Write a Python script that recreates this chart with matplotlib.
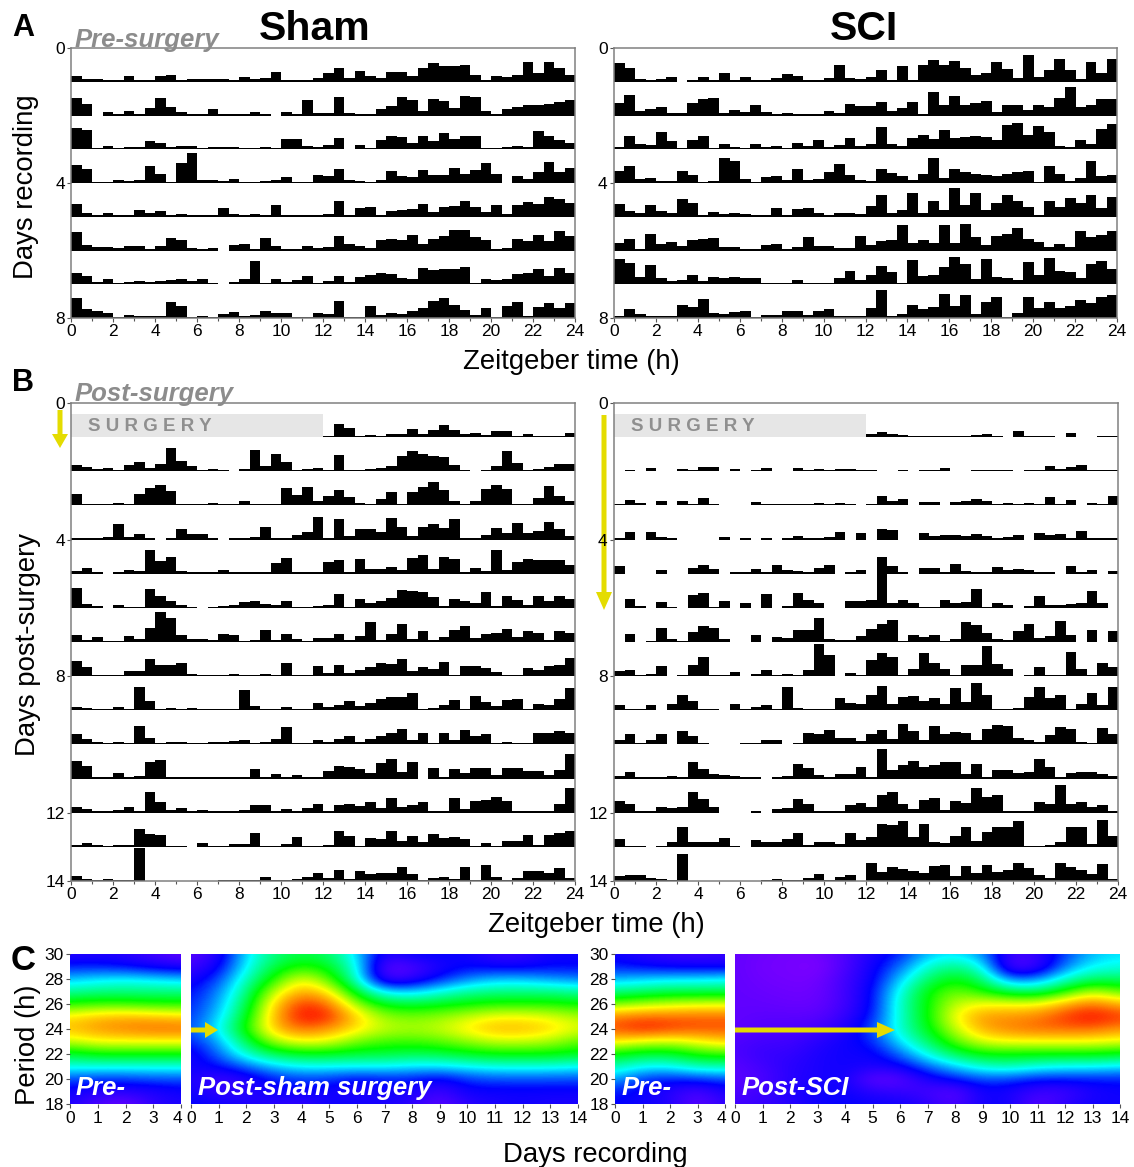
import numpy as np
import matplotlib
matplotlib.use("Agg")
import matplotlib.pyplot as plt
from matplotlib.colors import LinearSegmentedColormap
from matplotlib.patches import FancyArrow, Rectangle
from matplotlib.transforms import ScaledTranslation

plt.rcParams['font.family'] = ['Liberation Sans', 'DejaVu Sans']
N = None
ROW_SCALE = 101.0

SHAM_PRE = [
 [18,8,7,2,4,16,4,2,18,20,2,7,9,9,7,5,15,8,10,30,5,4,2,12,25,40,12,33,18,12,30,28,18,40,57,48,47,50,20,2,17,13,20,60,25,58,40,20],
 [52,35,N,11,3,12,5,22,53,24,10,2,4,20,5,2,2,10,3,N,9,3,47,6,6,56,6,5,3,18,27,55,47,12,50,44,22,58,55,12,4,20,26,30,32,33,41,45],
 [65,58,3,9,3,7,7,25,20,8,10,11,5,8,7,6,3,3,7,4,30,30,10,8,13,35,N,12,3,28,41,38,18,40,26,48,30,39,39,2,4,7,9,8,55,40,27,20],
 [55,43,2,3,8,7,9,52,28,3,60,90,8,9,6,13,2,2,5,10,19,2,3,24,20,42,10,5,2,8,36,22,17,40,24,25,44,27,40,60,27,N,20,12,32,63,32,45],
 [38,11,4,12,5,6,20,11,17,3,9,4,3,4,26,7,5,9,4,35,2,3,6,2,7,48,3,27,29,2,18,19,24,37,14,29,33,46,29,14,34,8,36,44,37,59,52,42],
 [54,17,10,10,6,12,12,2,13,38,32,6,2,7,N,17,18,4,36,12,5,5,12,7,9,43,18,13,7,32,33,31,46,19,33,42,62,62,39,31,2,7,35,27,46,27,58,42],
 [35,25,6,16,3,6,9,6,11,13,17,10,17,3,N,6,15,69,3,16,8,14,26,5,10,24,7,21,27,35,31,20,15,48,43,47,45,52,2,17,12,17,30,35,46,25,48,35],
 [59,28,21,14,3,8,6,6,5,49,36,4,5,2,13,17,6,9,21,14,15,4,2,15,13,52,3,2,37,9,14,11,21,31,52,60,38,24,10,29,4,35,49,6,32,44,31,45],
]
SCI_PRE = [
 [56,40,9,2,8,14,N,2,13,5,25,5,14,2,2,12,23,18,4,5,11,49,12,8,14,35,3,47,3,49,64,49,61,40,20,25,59,38,12,81,14,35,67,36,7,58,26,67],
 [36,61,12,20,25,8,7,36,48,53,6,16,9,30,10,2,6,5,2,4,12,8,34,28,28,40,14,21,40,2,69,31,58,30,38,42,10,31,32,15,31,25,52,85,24,31,50,48],
 [7,40,15,12,52,25,4,28,40,5,15,7,4,15,7,9,2,18,10,29,6,14,34,9,17,66,15,10,34,43,30,57,35,38,39,36,27,73,78,42,71,52,11,7,27,16,62,77],
 [36,51,11,15,7,5,36,24,2,5,75,67,13,2,18,20,9,41,9,11,32,57,24,8,7,41,30,22,8,28,75,15,43,33,27,24,20,26,33,35,4,50,27,6,15,65,21,25],
 [38,16,11,36,18,12,52,41,2,14,7,12,9,2,5,27,3,24,26,10,2,11,12,7,33,65,11,19,70,10,47,20,86,35,72,19,40,66,47,29,3,46,29,57,42,65,26,60],
 [21,33,4,48,20,26,13,31,33,37,9,11,3,2,16,20,2,10,40,13,13,6,6,42,16,27,30,77,23,32,22,77,23,79,41,17,43,49,66,34,26,9,19,10,59,40,46,57],
 [77,63,23,57,20,10,14,29,10,23,19,21,18,19,5,5,5,14,2,2,5,20,40,14,27,56,36,2,72,26,29,51,81,61,15,77,21,20,12,68,28,78,40,36,19,60,70,47],
 [5,28,12,6,7,7,40,33,58,15,12,18,21,3,10,9,21,20,8,20,26,7,7,7,29,83,7,13,40,27,33,72,36,70,13,48,64,4,16,63,29,49,29,37,53,45,62,68],
]
SHAM_POST = [
 [N,N,N,N,N,N,N,N,N,N,N,N,N,N,N,N,N,N,N,N,N,N,N,N,2,38,28,3,5,2,10,10,25,10,20,36,22,8,12,6,18,18,2,9,3,3,3,11],
 [20,13,7,10,2,20,26,10,21,70,30,15,5,6,2,N,8,62,15,51,28,3,8,10,5,49,4,2,6,10,15,45,60,52,45,42,20,5,N,2,17,60,24,3,8,13,22,22],
 [35,5,3,2,7,4,33,53,61,44,5,3,2,7,5,5,13,3,3,5,52,32,54,14,27,46,26,7,4,18,40,3,40,54,69,46,13,3,13,48,59,50,2,3,21,58,28,12],
 [2,2,2,9,46,9,17,3,N,2,32,17,17,3,N,2,5,9,36,5,2,13,22,66,3,60,10,32,32,21,64,36,10,37,46,35,62,3,3,13,34,19,49,19,25,53,31,12],
 [8,17,6,N,3,11,7,69,38,50,8,2,3,5,11,5,5,3,3,33,46,2,3,5,34,42,3,44,15,14,21,12,47,54,14,49,44,3,17,8,70,12,34,44,40,40,40,27],
 [59,10,5,N,7,4,2,57,36,21,7,3,N,2,5,8,18,21,10,7,19,2,3,5,9,42,3,27,13,19,30,52,50,47,32,5,27,20,15,48,6,34,24,8,36,20,36,27],
 [20,6,15,3,3,17,10,40,88,70,20,8,10,6,23,20,3,5,36,5,23,8,2,13,12,24,5,18,59,5,25,53,8,32,5,15,36,46,12,24,28,37,15,34,28,6,33,27],
 [45,27,2,4,2,15,16,50,33,33,38,6,2,4,2,6,3,3,5,2,39,3,3,31,9,33,9,18,27,39,35,51,14,26,22,42,3,31,29,23,11,2,2,25,18,31,33,53],
 [11,7,3,2,10,2,68,26,5,7,3,8,2,2,4,4,60,12,4,2,9,5,3,22,11,16,28,13,22,33,38,40,52,4,6,17,30,4,41,24,12,30,34,2,18,15,34,67],
 [30,15,8,2,6,5,55,18,3,7,7,2,3,6,6,10,12,3,8,15,53,2,5,12,6,17,24,8,15,24,33,45,14,33,2,33,14,43,24,30,3,6,2,3,34,34,40,34],
 [53,36,4,2,17,5,7,50,55,4,2,2,3,2,3,4,3,28,5,13,3,11,4,6,22,38,33,28,16,47,57,19,48,N,30,4,28,17,30,32,10,31,32,23,23,10,25,74],
 [18,12,2,3,7,16,3,60,33,8,13,3,7,2,2,2,9,22,22,2,10,5,14,26,2,22,26,19,33,15,43,17,23,33,6,3,43,12,36,37,46,36,3,2,5,5,25,72],
 [6,12,6,3,5,6,53,38,34,3,2,N,10,2,4,7,9,40,2,4,8,29,2,2,5,47,33,2,26,24,46,18,33,15,38,25,30,24,4,11,4,18,16,35,6,36,42,47],
 [15,5,3,5,3,2,97,N,N,N,N,N,N,N,2,3,2,4,13,4,2,5,11,23,8,34,7,30,22,24,24,40,22,3,10,12,6,42,3,46,12,2,10,31,29,24,38,10],
]
SCI_POST = [
 [N,N,N,N,N,N,N,N,N,N,N,N,N,N,N,N,N,N,N,N,N,N,N,N,10,15,10,5,2,2,2,4,2,3,6,8,3,N,18,2,2,3,N,12,N,N,2,2],
 [N,2,N,10,N,N,8,5,12,12,N,8,N,2,9,N,N,9,2,8,3,8,6,2,2,N,N,2,N,2,5,9,N,N,2,4,2,2,N,2,5,17,6,14,18,5,3,2],
 [2,15,8,N,12,N,12,5,21,4,N,N,N,9,5,2,2,5,5,6,2,7,2,N,5,27,13,20,N,10,10,N,9,12,19,13,4,8,4,8,4,25,4,15,N,7,5,29],
 [6,22,N,22,8,3,N,N,N,N,8,N,2,N,4,N,3,11,4,3,8,22,N,19,N,32,28,N,N,19,12,14,14,11,16,11,4,9,13,N,19,13,16,5,25,4,5,3],
 [24,N,N,N,12,N,N,17,26,14,N,2,4,14,5,27,10,8,4,18,26,N,4,12,N,50,22,2,N,17,17,2,29,9,6,3,19,11,14,10,6,4,N,22,4,11,N,9],
 [N,25,6,N,17,2,N,37,43,3,20,N,13,N,42,N,6,45,22,13,N,N,20,20,22,100,13,22,13,3,2,24,13,16,57,2,13,8,N,5,35,9,8,10,14,50,15,N],
 [N,24,N,3,40,8,2,30,47,42,8,N,N,22,N,14,11,35,35,70,10,5,7,18,37,52,64,3,20,15,22,2,8,60,50,28,8,5,33,53,13,18,62,20,N,35,N,33],
 [16,18,2,5,29,N,2,32,57,2,2,13,N,5,18,2,7,2,18,95,62,N,9,2,49,68,57,2,21,67,38,20,2,32,32,88,36,22,N,3,26,3,2,70,22,2,38,26],
 [15,5,3,16,N,20,45,26,2,2,N,20,5,10,15,2,68,7,5,2,5,35,23,20,45,72,20,40,43,26,35,20,66,24,80,45,3,2,7,38,68,37,45,4,20,50,15,70],
 [12,32,2,12,30,N,40,25,3,N,N,N,2,2,14,14,N,3,34,30,44,20,18,10,32,43,17,60,40,12,55,30,38,35,12,47,58,55,20,14,8,27,52,45,8,2,48,30],
 [8,18,3,3,5,9,6,50,27,15,10,7,3,5,N,2,8,43,32,12,3,13,13,35,3,88,25,41,52,33,40,48,48,13,44,3,24,25,17,20,58,33,3,17,18,20,13,9],
 [36,25,5,2,16,13,17,60,42,17,N,N,N,6,N,11,15,40,27,2,6,5,24,28,16,52,60,27,12,37,45,8,36,30,73,47,53,3,2,2,33,27,82,25,31,16,24,2],
 [23,2,2,N,2,13,60,14,14,14,25,2,N,21,13,15,24,40,5,13,15,9,42,20,29,69,66,76,29,69,15,12,33,60,18,45,58,58,77,3,2,6,14,58,60,8,80,33],
 [14,18,18,8,6,2,80,N,N,N,N,N,N,N,4,7,3,3,9,20,2,11,18,N,53,26,40,36,30,24,45,48,14,44,25,48,28,32,52,38,17,10,53,40,33,20,50,6],
]
for tbl in (SHAM_PRE, SCI_PRE, SHAM_POST, SCI_POST):
    for r in tbl:
        assert len(r) == 48, (len(r), r)

PERIODS = [30,29,28,27,26,25,24,23,22,21,20,19,18]
HEAT_SHAM_PRE = [
 [14,15,14,10,5],[22,22,20,17,15],[35,38,40,38,36],[48,50,50,50,50],[62,64,64,62,62],[80,84,85,84,82],
 [84,88,90,92,92],[74,78,78,78,78],[56,60,60,60,60],[42,42,42,42,42],[26,24,24,26,26],[18,14,14,15,18],[16,8,3,14,16]]
HEAT_SHAM_POST = [
 [6,14,38,50,55,52,38,14,20,20,18,12,12,18,18],
 [10,18,40,55,62,58,42,5,8,16,20,18,18,20,20],
 [16,25,45,62,78,66,44,8,12,22,30,35,35,32,30],
 [20,30,50,74,87,80,56,38,36,42,48,50,50,50,48],
 [22,33,54,82,97,92,70,58,56,58,60,62,62,62,60],
 [24,36,58,85,100,98,82,70,68,70,74,78,78,76,72],
 [26,40,62,84,92,88,80,74,72,74,80,85,85,82,76],
 [22,33,54,72,78,76,68,64,64,66,70,74,74,72,66],
 [16,28,44,54,58,58,56,56,54,55,58,60,60,60,58],
 [18,20,28,36,40,40,40,40,38,38,40,42,42,42,40],
 [16,10,14,22,25,24,20,22,22,18,24,26,26,26,26],
 [18,12,14,18,18,18,14,18,16,10,18,18,18,18,18],
 [20,18,16,14,12,18,18,16,14,5,14,16,18,16,16]]
HEAT_SCI_PRE = [
 [18,14,12,10,12],[22,20,18,18,17],[34,36,38,38,40],[50,52,54,54,54],[68,72,74,76,76],[90,92,92,92,92],
 [94,99,96,94,94],[80,76,74,78,82],[60,56,56,62,64],[46,40,40,46,46],[34,24,22,24,26],[22,18,14,8,16],[20,18,16,5,14]]
HEAT_SCI_POST = [
 [5,3,2,2,8,16,22,35,38,32,10,12,25,35,38],
 [5,2,2,0,8,18,28,44,50,42,6,10,30,40,42],
 [5,3,2,2,10,18,36,52,60,52,28,30,44,52,52],
 [5,4,3,3,10,20,42,60,68,62,54,52,62,74,66],
 [5,5,4,4,10,20,45,60,74,78,78,78,86,92,85],
 [5,6,6,6,12,22,44,60,78,88,88,90,96,100,96],
 [5,8,8,10,15,26,44,58,74,86,90,92,92,92,88],
 [8,10,10,14,18,22,38,52,66,76,78,78,78,78,76],
 [8,12,12,16,18,18,28,42,54,60,60,60,60,60,58],
 [6,10,14,16,18,16,18,28,36,44,46,42,40,40,38],
 [6,8,14,16,18,4,6,16,22,26,25,22,22,22,22],
 [8,10,16,18,18,14,12,10,5,18,16,10,10,16,18],
 [10,12,14,18,20,18,18,14,8,18,18,6,14,18,18]]

W, H = 1134, 1167
fig = plt.figure(figsize=(W/100, H/100), dpi=100, facecolor='white')
GRAY = '#8c8c8c'
TICK_FS = 12.5
YEL = '#e4dc00'

def px_axes(x0, y0, x1, y1, **kw):
    return fig.add_axes([x0/W, 1-y1/H, (x1-x0)/W, (y1-y0)/H], **kw)

def actogram(box, table, yticks, surgery=False):
    ax = px_axes(*box)
    n = len(table)
    for i, row in enumerate(table):
        vals = np.array(row, dtype=float)
        hts = np.maximum(vals, 4.0)/ROW_SCALE
        xs = np.arange(48)*0.5
        ax.bar(xs, -hts, width=0.52, bottom=i+1, align='edge', color='black', linewidth=0, antialiased=False)
    ax.set_xlim(0, 24); ax.set_ylim(n, 0)
    ax.set_xticks(np.arange(0, 25, 2))
    ax.set_xticks(np.arange(0, 25, 1), minor=True)
    ax.set_yticks(yticks)
    ax.tick_params(axis='both', which='major', labelsize=TICK_FS, length=3, width=0.8, color='#555555', pad=1.5)
    ax.tick_params(axis='x', which='minor', length=2.5, width=0.8, color='#555555')
    for s in ax.spines.values():
        s.set_color('#808080'); s.set_linewidth(1.1)
    if surgery:
        ax.add_patch(Rectangle((0, 0.32), 12, 0.68, facecolor='#e6e6e6', edgecolor='none', zorder=1))
        ax.text(0.8, 0.68, 'S U R G E R Y', fontsize=13.5, fontweight='bold', color='#8f8f8f', va='center', ha='left')
    return ax

actogram((71, 48, 575, 318), SHAM_PRE, [0, 4, 8])
actogram((614, 48, 1117, 318), SCI_PRE, [0, 4, 8])
actogram((71, 403, 575, 881), SHAM_POST, [0, 4, 8, 12, 14], surgery=True)
actogram((614, 403, 1118, 881), SCI_POST, [0, 4, 8, 12, 14], surgery=True)

stops = [(0.0, '#8000ff'), (0.2, '#0000ff'), (0.4, '#00ffff'), (0.6, '#00ff00'),
         (0.78, '#ffff00'), (0.9, '#ff8000'), (1.0, '#ff0000')]
cmap = LinearSegmentedColormap.from_list('period', stops)

def heat(box, grid, ylab):
    ax = px_axes(*box)
    arr = np.array(grid, dtype=float)
    n = arr.shape[1]-1
    ax.imshow(arr, cmap=cmap, vmin=0, vmax=100, aspect='auto', interpolation='bicubic',
              extent=[-0.5, n+0.5, PERIODS[-1]-0.5, PERIODS[0]+0.5], origin='upper')
    ax.set_xlim(0, n); ax.set_ylim(18, 30)
    ax.set_xticks(np.arange(n+1))
    ax.tick_params(axis='x', labelsize=TICK_FS, length=3, width=0.8, color='#555555', pad=2)
    if ylab:
        ax.set_yticks(np.arange(18, 31, 2))
        ax.tick_params(axis='y', labelsize=TICK_FS, length=3, width=0.8, color='#555555', pad=1.5)
        lab = ax.get_xticklabels()[-1]
        lab.set_transform(lab.get_transform() + ScaledTranslation(-4/100, 0, fig.dpi_scale_trans))
    else:
        ax.set_yticks([])
    for s in ax.spines.values():
        s.set_visible(False)
    return ax

heat((70, 954, 181, 1104), HEAT_SHAM_PRE, True)
heat((191, 954, 578, 1104), HEAT_SHAM_POST, False)
heat((615, 954, 725, 1104), HEAT_SCI_PRE, True)
heat((735, 954, 1120, 1104), HEAT_SCI_POST, False)

under = fig.add_axes([0, 0, 1, 1], zorder=-1)
under.set_xlim(0, W); under.set_ylim(H, 0); under.axis('off')
ov = fig.add_axes([0, 0, 1, 1], zorder=10)
ov.set_xlim(0, W); ov.set_ylim(H, 0); ov.axis('off'); ov.patch.set_alpha(0)

def t(x, y, s, **kw):
    kw.setdefault('ha', 'center'); kw.setdefault('va', 'center')
    ov.text(x, y, s, **kw)

t(315, 29, 'Sham', fontsize=29.5, fontweight='bold')
t(864, 29, 'SCI', fontsize=29.5, fontweight='bold')
t(23, 28, 'A', fontsize=22, fontweight='bold')
t(23, 383, 'B', fontsize=22, fontweight='bold')
t(23, 960, 'C', fontsize=25, fontweight='bold')
t(75, 40, 'Pre-surgery', fontsize=18.5, fontweight='bold', style='italic', color=GRAY, ha='left')
t(75, 394, 'Post-surgery', fontsize=18.5, fontweight='bold', style='italic', color=GRAY, ha='left')
t(571, 362, 'Zeitgeber time (h)', fontsize=19.8)
t(596.5, 925, 'Zeitgeber time (h)', fontsize=19.8)
t(595, 1155, 'Days recording', fontsize=19.8)
t(26, 187, 'Days recording', fontsize=19.8, rotation=90)
t(28, 644, 'Days post-surgery', fontsize=19.8, rotation=90)
t(28, 1045, 'Period (h)', fontsize=19.8, rotation=90)
for x, s in [(76, 'Pre-'), (198, 'Post-sham surgery'), (622, 'Pre-'), (742, 'Post-SCI')]:
    t(x, 1088, s, fontsize=18.5, fontweight='bold', style='italic', color='white', ha='left')

def arrow(a, x, y, dx, dy, w, hw, hl):
    a.add_patch(FancyArrow(x, y, dx, dy, width=w, head_width=hw, head_length=hl,
                           length_includes_head=True, color=YEL, linewidth=0))

arrow(under, 60, 410, 0, 38, 5, 16, 14)
arrow(under, 604, 415, 0, 195, 5, 16, 18)
arrow(ov, 191, 1030, 27, 0, 5, 16, 13)
arrow(ov, 735, 1030, 160, 0, 5, 16, 18)

fig.savefig('out.png', dpi=100, facecolor='white')
